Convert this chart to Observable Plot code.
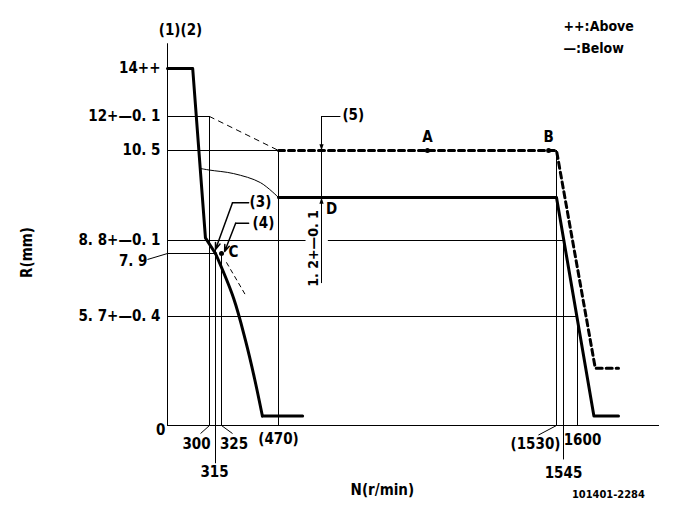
<!DOCTYPE html>
<html><head><meta charset="utf-8">
<script src="https://cdn.jsdelivr.net/npm/d3@7"></script>
<script src="https://cdn.jsdelivr.net/npm/@observablehq/plot@0.6"></script>
<style>html,body{margin:0;padding:0;background:#fff;} svg{display:block;background:#fff}</style>
</head><body><div id="chart"></div>
<script>
// ---- data (N in r/min, R in mm) ----
const yTickValues = [14, 12, 10.5, 8.8, 5.7];
const yTickLabels = ["14++", "12+—0. 1", "10. 5", "8. 8+—0. 1", "5. 7+—0. 4"];
const fullLoadTopN = [0, 180, 271, 315];
const fullLoadTopR = [14, 14, 8.83, 7.9];
const fullLoadFallN = [315, 356, 386, 409, 429];
const fullLoadFallR = [7.9, 6.33, 4.45, 2.46, 0.5];
const idleN = [429, 562];
const idleR = [0.5, 0.5];
const ratedN = [470, 1530, 1660, 1750];
const ratedR = [9.3, 9.3, 0.5, 0.5];
const upperDashN = [300, 470];
const upperDashR = [12, 10.5];
const maxDashN = [470, 1530, 1665, 1750];
const maxDashR = [10.5, 10.5, 3, 3];
const thinCurveN = [236, 300, 356, 424, 470];
const thinCurveR = [10.04, 10.0, 9.91, 9.68, 9.3];
const lowDashN = [338, 389];
const lowDashR = [7.58, 6.38];
const hRefR = [12, 10.5, 8.8, 8.8, 7.9, 5.7];
const hRefFrom = [0, 0, 0, 660, 0, 0];
const hRefTo = [300, 470, 575, 1545, 315, 1600];
const vRefN = [300, 315, 325, 470, 1530, 1545, 1600];
const vRefFrom = [0, -2, 0, 0, 0, -1.8, 0];
const vRefTo = [12, 8.3, 7.9, 10.5, 10.5, 8.8, 5.7];
const pointNames = ["A", "B", "C"];
const pointN = [1038, 1500, 325];
const pointR = [10.5, 10.5, 7.9];
const pointD = {n: 634, r: 9.3};
const gaugeN = 634, gaugeTop = 12, gaugeBottom = 6.85, gaugeTabN = 706;
const lead3N = [394, 353], lead3R = [9.24, 9.24], lead3Tip = {n: 315, r: 8.18};
const lead4N = [394, 361], lead4R = [9.0, 9.0], lead4Tip = {n: 333, r: 8.04};

// schematic (non-uniform) axes: piecewise transforms applied by Plot's scales
const xBreaks = d3.scaleLinear()
  .domain([-1193, 0, 300, 315, 325, 470, 1530, 1545, 1600, 1900, 1995])
  .range([0, 167, 209, 215, 221, 278, 556, 563, 577, 659, 685]);
const yBreaks = d3.scaleLinear()
  .domain([-5.33, 0, 5.7, 7.9, 8.8, 9.3, 10.5, 12, 14, 16.75])
  .range([527, 425, 316, 253, 240, 197, 150, 116, 68, 0]);

const pts = (xs, ys) => xs.map((x, i) => ({x, y: ys[i]}));
const FONT = "'Liberation Sans Narrow','DejaVu Sans Condensed','Liberation Sans',sans-serif";
const T = (o) => Object.assign({fontFamily: FONT, fontWeight: "bold", fontSize: 15, fill: "black"}, o);
const triDown = {draw(ctx, size) { const r = Math.sqrt(size / Math.PI); ctx.moveTo(0, 0); ctx.lineTo(-r * 0.6, -r * 1.8); ctx.lineTo(r * 0.6, -r * 1.8); ctx.closePath(); }};
const triUp = {draw(ctx, size) { const r = Math.sqrt(size / Math.PI); ctx.moveTo(0, 0); ctx.lineTo(-r * 0.6, r * 1.8); ctx.lineTo(r * 0.6, r * 1.8); ctx.closePath(); }};

const hRefs = hRefR.map((r, i) => ({y: r, x1: hRefFrom[i], x2: hRefTo[i]}));
const vRefs = vRefN.map((n, i) => ({x: n, y1: vRefFrom[i], y2: vRefTo[i]}));
const yTicks = yTickValues.map((v, i) => ({y: v, label: yTickLabels[i]}));
const points = pointNames.map((s, i) => ({name: s, x: pointN[i], y: pointR[i]}));
const thick = {stroke: "black", strokeWidth: 3};

const chart = Plot.plot({
  width: 685, height: 527, margin: 0,
  x: {type: "linear", transform: xBreaks, domain: [0, 685], range: [0, 685], axis: null},
  y: {type: "linear", transform: yBreaks, domain: [0, 527], range: [0, 527], axis: null},
  marks: [
    Plot.ruleX([0], {y1: 0, y2: 15, stroke: "black"}),
    Plot.ruleY([0], {x1: 0, x2: 1900, stroke: "black"}),
    Plot.ruleY(hRefs, {y: "y", x1: "x1", x2: "x2", stroke: "black", strokeWidth: 1}),
    Plot.ruleX(vRefs, {x: "x", y1: "y1", y2: "y2", stroke: "black", strokeWidth: 1}),
    Plot.link([{x1: 300, y1: 0, x2: 236, y2: -0.42}, {x1: 325, y1: 0, x2: 353, y2: -0.42}, {x1: 1530, y1: 0, x2: 1461, y2: -0.5}],
      {x1: "x1", y1: "y1", x2: "x2", y2: "y2", stroke: "black"}),
    Plot.link([{x1: -143, y1: 7.69, x2: 0, y2: 7.9}], {x1: "x1", y1: "y1", x2: "x2", y2: "y2", stroke: "black"}),
    Plot.line(pts(thinCurveN, thinCurveR), {x: "x", y: "y", stroke: "black", strokeWidth: 1, curve: "catmull-rom"}),
    Plot.line(pts(upperDashN, upperDashR), {x: "x", y: "y", stroke: "black", strokeWidth: 1, strokeDasharray: "5,5"}),
    Plot.line(pts(lowDashN, lowDashR), {x: "x", y: "y", stroke: "black", strokeWidth: 1, strokeDasharray: "4,4"}),
    Plot.line(pts(maxDashN, maxDashR), {x: "x", y: "y", ...thick, strokeDasharray: "6,4"}),
    Plot.line(pts(fullLoadTopN, fullLoadTopR), {x: "x", y: "y", ...thick}),
    Plot.line(pts(fullLoadFallN, fullLoadFallR), {x: "x", y: "y", ...thick, curve: "catmull-rom"}),
    Plot.line(pts(idleN, idleR), {x: "x", y: "y", ...thick}),
    Plot.line(pts(ratedN, ratedR), {x: "x", y: "y", ...thick}),
    // gauge (5)
    Plot.ruleX([gaugeN], {y1: gaugeBottom, y2: gaugeTop, stroke: "black"}),
    Plot.link([{x1: gaugeN, x2: gaugeTabN, y: gaugeTop}], {x1: "x1", x2: "x2", y1: "y", y2: "y", stroke: "black"}),
    Plot.dot([{x: gaugeN, y: 10.5}], {x: "x", y: "y", symbol: triDown, r: 3.5, fill: "black", stroke: null}),
    Plot.dot([{x: gaugeN, y: pointD.r}], {x: "x", y: "y", symbol: triUp, r: 3.5, fill: "black", stroke: null}),
    // leaders (3) and (4)
    Plot.line(pts(lead3N, lead3R), {x: "x", y: "y", stroke: "black"}),
    Plot.arrow([{x1: lead3N[1], y1: lead3R[1], x2: lead3Tip.n, y2: lead3Tip.r}],
      {x1: "x1", y1: "y1", x2: "x2", y2: "y2", stroke: "black", strokeWidth: 1.5, headLength: 7, headAngle: 40}),
    Plot.line(pts(lead4N, lead4R), {x: "x", y: "y", stroke: "black"}),
    Plot.arrow([{x1: lead4N[1], y1: lead4R[1], x2: lead4Tip.n, y2: lead4Tip.r}],
      {x1: "x1", y1: "y1", x2: "x2", y2: "y2", stroke: "black", strokeWidth: 1.5, headLength: 7, headAngle: 40}),
    // points
    Plot.dot(points, {x: "x", y: "y", r: 2.5, fill: "black"}),
    Plot.text(points.filter(d => d.name !== "C"), T({x: "x", y: "y", text: "name", dy: -13})),
    Plot.text(points.filter(d => d.name === "C"), T({x: "x", y: "y", text: "name", dx: 12, dy: -1})),
    Plot.text([pointD], T({x: "n", y: "r", text: () => "D", dx: 10, dy: 12})),
    // labels
    Plot.text(yTicks, T({x: 0, y: "y", text: "label", textAnchor: "end", dx: -7})),
    Plot.text(["7. 9"], T({x: 0, y: 7.9, text: d => d, textAnchor: "end", dx: -20, dy: 8})),
    Plot.text(["0"], T({x: 0, y: 0, text: d => d, textAnchor: "end", dx: -2, dy: 5})),
    Plot.text(["(1)(2)"], T({x: 0, y: 15.55, text: d => d, dx: 13})),
    Plot.text(["R(mm)"], T({x: -1000, y: 7.97, text: d => d, rotate: -90})),
    Plot.text(["N(r/min)"], T({x: 866, y: -3.4, text: d => d})),
    Plot.text(["101401-2284"], T({x: 1713, y: -3.61, text: d => d, fontSize: 11, letterSpacing: 1})),
    Plot.text(["++:Above"], T({x: 1545, y: 15.71, text: d => d, textAnchor: "start", fontSize: 14})),
    Plot.text(["—:Below"], T({x: 1545, y: 14.79, text: d => d, textAnchor: "start", fontSize: 14})),
    Plot.text(["300"], T({x: 300, y: 0, text: d => d, dx: -13, dy: 19})),
    Plot.text(["315"], T({x: 315, y: 0, text: d => d, dx: -1, dy: 47})),
    Plot.text(["325"], T({x: 325, y: 0, text: d => d, dx: 12.5, dy: 19})),
    Plot.text(["(470)"], T({x: 470, y: 0, text: d => d, dy: 14})),
    Plot.text(["(1530)"], T({x: 1530, y: 0, text: d => d, dx: -21, dy: 19})),
    Plot.text(["1545"], T({x: 1545, y: 0, text: d => d, dy: 48})),
    Plot.text(["1600"], T({x: 1600, y: 0, text: d => d, dx: 5, dy: 15})),
    Plot.text(["(3)"], T({x: lead3N[0], y: lead3R[0], text: d => d, textAnchor: "start", dx: 1})),
    Plot.text(["(4)"], T({x: lead4N[0], y: lead4R[0], text: d => d, textAnchor: "start", dx: 4})),
    Plot.text(["(5)"], T({x: gaugeTabN, y: gaugeTop, text: d => d, textAnchor: "start", dx: 2, dy: -1})),
    Plot.text(["1. 2+—0. 1"], T({x: gaugeN, y: 8.25, text: d => d, rotate: -90, dx: -8, fontSize: 14}))
  ]
});
document.getElementById("chart").appendChild(chart);
</script>
</body></html>
